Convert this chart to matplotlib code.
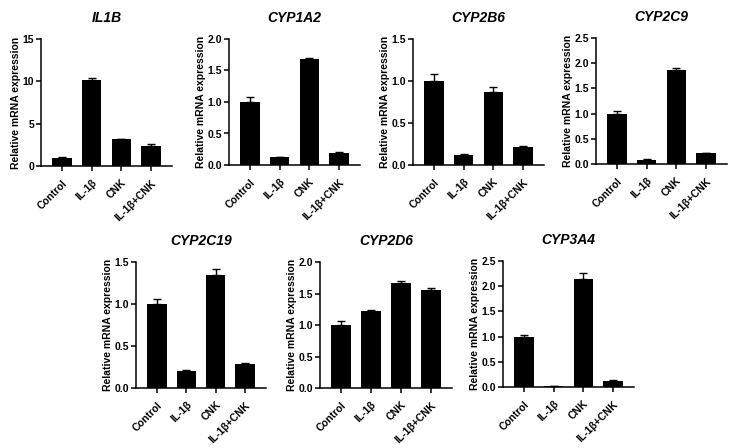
import matplotlib
matplotlib.use("Agg")
import matplotlib.pyplot as plt
import numpy as np

plt.rcParams['font.family'] = ['Liberation Sans', 'DejaVu Sans']
plt.rcParams['font.weight'] = 'bold'

categories = ["Control", "IL-1β", "CNK", "IL-1β+CNK"]

genes = ["IL1B", "CYP1A2", "CYP2B6", "CYP2C9", "CYP2C19", "CYP2D6", "CYP3A4"]

il1b_vals = [1.0, 10.2, 3.15, 2.35]
il1b_err = [0.08, 0.2, 0.08, 0.2]
cyp1a2_vals = [1.0, 0.12, 1.69, 0.19]
cyp1a2_err = [0.08, 0.01, 0.01, 0.01]
cyp2b6_vals = [1.0, 0.12, 0.87, 0.22]
cyp2b6_err = [0.08, 0.005, 0.06, 0.01]
cyp2c9_vals = [1.0, 0.08, 1.86, 0.21]
cyp2c9_err = [0.05, 0.01, 0.04, 0.005]
cyp2c19_vals = [1.0, 0.2, 1.35, 0.29]
cyp2c19_err = [0.06, 0.01, 0.07, 0.005]
cyp2d6_vals = [1.0, 1.23, 1.67, 1.55]
cyp2d6_err = [0.07, 0.01, 0.03, 0.03]
cyp3a4_vals = [1.0, 0.02, 2.14, 0.12]
cyp3a4_err = [0.04, 0.005, 0.12, 0.01]

il1b_ticks = [0, 5, 10, 15]
cyp1a2_ticks = [0.0, 0.5, 1.0, 1.5, 2.0]
cyp2b6_ticks = [0.0, 0.5, 1.0, 1.5]
cyp2c9_ticks = [0.0, 0.5, 1.0, 1.5, 2.0, 2.5]
cyp2c19_ticks = [0.0, 0.5, 1.0, 1.5]
cyp2d6_ticks = [0.0, 0.5, 1.0, 1.5, 2.0]
cyp3a4_ticks = [0.0, 0.5, 1.0, 1.5, 2.0, 2.5]

panels = [
    (il1b_vals, il1b_err, il1b_ticks, "{:.0f}"),
    (cyp1a2_vals, cyp1a2_err, cyp1a2_ticks, "{:.1f}"),
    (cyp2b6_vals, cyp2b6_err, cyp2b6_ticks, "{:.1f}"),
    (cyp2c9_vals, cyp2c9_err, cyp2c9_ticks, "{:.1f}"),
    (cyp2c19_vals, cyp2c19_err, cyp2c19_ticks, "{:.1f}"),
    (cyp2d6_vals, cyp2d6_err, cyp2d6_ticks, "{:.1f}"),
    (cyp3a4_vals, cyp3a4_err, cyp3a4_ticks, "{:.1f}"),
]

W, H = 739, 448
fig = plt.figure(figsize=(W / 100, H / 100), dpi=100)

# pixel boxes (left, top, width, height)
boxes = [
    (41, 39, 131, 127),
    (229, 39, 131, 126),
    (413, 39, 131, 126),
    (596, 38, 131, 126),
    (136, 262, 130, 126),
    (320, 262, 132, 126),
    (503, 261, 131, 126),
]

fs = 7.5
for gene, (vals, err, ticks, fmt), (l, t, w, h) in zip(genes, panels, boxes):
    ax = fig.add_axes([l / W, 1 - (t + h) / H, w / W, h / H])
    x = np.arange(len(categories))
    ax.bar(x, vals, width=0.66, color="black", zorder=2)
    ax.errorbar(x, vals, yerr=[np.zeros(len(vals)), err], fmt="none",
                ecolor="black", elinewidth=1.0, capsize=3, capthick=1.0, zorder=1)
    ax.set_xlim(-0.71, 3.71)
    ax.set_ylim(ticks[0], ticks[-1])
    ax.set_yticks(ticks)
    ax.set_yticklabels([fmt.format(v) for v in ticks], fontsize=fs, fontweight="bold")
    ax.set_xticks(x)
    ax.set_xticklabels(categories, rotation=45, ha="right", rotation_mode="anchor",
                       fontsize=fs, fontweight="bold")
    for s in ["top", "right"]:
        ax.spines[s].set_visible(False)
    for s in ["left", "bottom"]:
        ax.spines[s].set_linewidth(1.1)
    ax.tick_params(axis="both", direction="out", length=3.5, width=1.1)
    ax.tick_params(axis="y", pad=1.5)
    ax.tick_params(axis="x", pad=5)
    ax.set_ylabel("Relative mRNA expression", fontsize=fs, fontweight="bold", labelpad=1)
    ax.set_title(gene, fontsize=10, fontweight="bold", fontstyle="italic", pad=12)

fig.savefig("out.png", dpi=100)
